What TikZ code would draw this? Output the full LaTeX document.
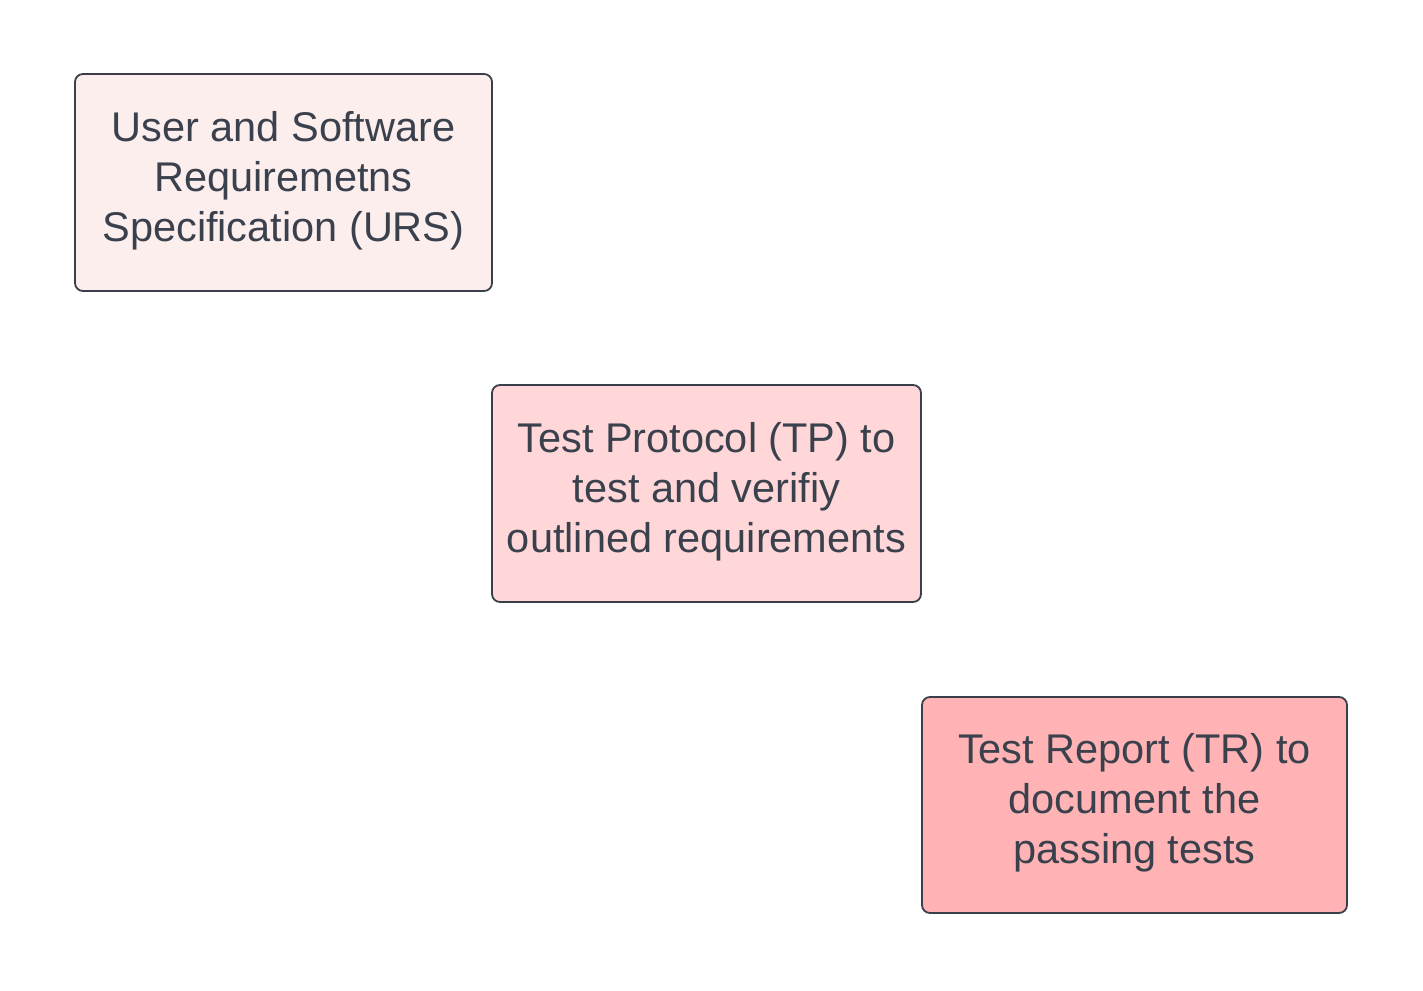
\documentclass[tikz,border=0pt]{standalone}
\usepackage{fontspec}
\setmainfont{Liberation Sans}
\definecolor{edge}{HTML}{3A3F4A}
\definecolor{txt}{HTML}{3A414D}
\definecolor{fillA}{HTML}{FDEEEE}
\definecolor{fillB}{HTML}{FFD7D8}
\definecolor{fillC}{HTML}{FFB3B4}
\begin{document}
\begin{tikzpicture}[x=1pt,y=-1pt,
  box/.style={draw=edge, line width=1.8pt, rounded corners=8pt},
  lbl/.style={text=txt, align=center, font=\fontsize{41.5}{50}\selectfont, inner sep=0pt}]
\useasboundingbox (0,0) rectangle (1423,990);
\fill[white] (0,0) rectangle (1423,990);
\draw[box, fill=fillA] (75,74) rectangle (492,291);
\node[lbl] (urs) at (283.5,181) {User and Software\\Requiremetns\\Specification (URS)};
\draw[box, fill=fillB] (492,385) rectangle (921,602);
\node[lbl] (tp) at (706.5,492) {Test Protocol (TP) to\\test and verifiy\\outlined requirements};
\draw[box, fill=fillC] (922,697) rectangle (1347,913);
\node[lbl] (tr) at (1134.5,803) {Test Report (TR) to\\document the\\passing tests};
\end{tikzpicture}
\end{document}
